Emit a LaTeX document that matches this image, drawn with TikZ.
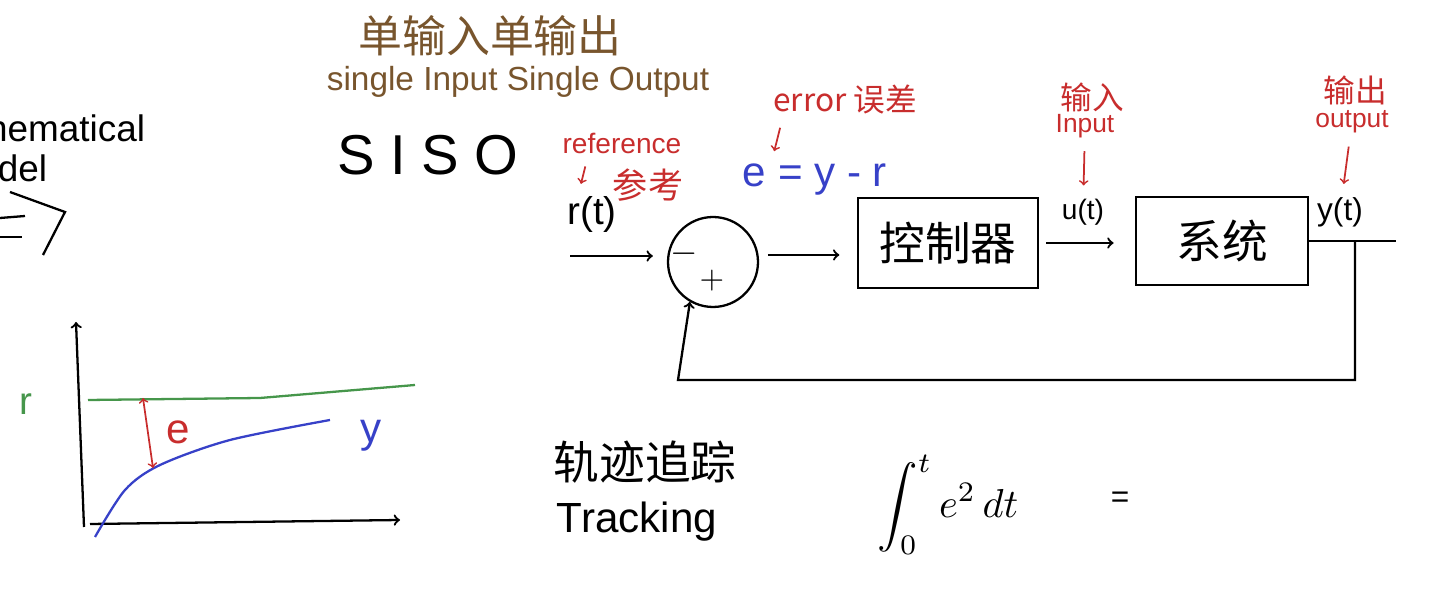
\documentclass[tikz,border=0pt]{standalone}
\usepackage{fontspec}
\setmainfont{Liberation Sans}
\newfontfamily\cjk{Noto Sans CJK SC}
\usetikzlibrary{positioning}
\definecolor{inkred}{RGB}{200,45,45}
\definecolor{inkbrown}{RGB}{120,85,45}
\definecolor{inkblue}{RGB}{55,65,200}
\definecolor{inkgreen}{RGB}{70,150,75}
\newcommand{\fs}[1]{\fontsize{#1}{#1}\selectfont}
\begin{document}
\begin{tikzpicture}[
        x=0.02cm, y=-0.02cm,
        line width=1.3pt,
        every node/.style={inner sep=1pt},
        block/.style={rectangle, draw, line width=1.3pt, minimum width=3.6cm, minimum height=1.8cm, font=\cjk\fs{26}},
        summer/.style={circle, draw, line width=1.3pt, minimum size=1.8cm},
        signal/.style={font=\fs{22}},
        rednote/.style={text=inkred, font=\cjk\fs{16}},
        redarrow/.style={->, inkred, line width=1pt, shorten >=6pt, shorten <=6pt},
        flow/.style={->, line width=1.3pt},
    ]
        \useasboundingbox (0,0) rectangle (1431,607);

        % Cut-off notes on the left
        \node[anchor=east, font=\fs{21}] (math) at (148,128) {Mathematical};
        \node[anchor=east, font=\fs{21}] (model) at (50,168) {Model};
        \draw (10,192) -- (65,212) -- (43,255);
        \draw (0,218) -- (25,216);
        \draw (0,237) -- (22,237);

        % SISO title
        \node[text=inkbrown, font=\cjk\fs{25}] (siso cn) at (490,36) {单输入单输出};
        \node[text=inkbrown, font=\fs{19}] (siso en) at (518,82) {single Input Single Output};
        \node[font=\fs{32}] (siso) at (428,155) {S I S O};

        % Block diagram
        \node[summer] (sum) at (713,262) {};
        \node[scale=2] at (684,254) {$-$};
        \node[scale=1.8] at (712,281) {$+$};
        \node[block] (ctrl) at (948,243) {控制器};
        \node[block, minimum width=3.45cm, minimum height=1.75cm] (plant) at (1222,241) {系统};

        \coordinate (rin) at (570,256);
        \node[signal] (rt) at (592,215) {r(t)};
        \node[signal, font=\fs{16}] (ut) at (1083,212) {u(t)};
        \node[signal, font=\fs{18}] (yt) at (1340,212) {y(t)};

        \draw[flow, shorten >=8pt] (rin) -- (rin -| sum.west);
        \draw[flow, shorten <=5pt, shorten >=10pt] ([yshift=4pt]sum.east) -- ([yshift=4pt]sum.east -| ctrl.west);
        \draw[flow, shorten <=4pt, shorten >=12pt] (ctrl.east) -- (ctrl.east -| plant.west);
        \draw (plant.east) -- ++(87,0) coordinate (yend);
        \coordinate (tap) at (1355,241);
        \coordinate (fb) at (678,380);
        \draw[flow] (tap) |- (fb) -- (sum.240);

        % Annotations
        \node[rednote, font=\fs{16}] (ref) at (622,143) {reference};
        \node[rednote, font=\cjk\fs{20}] (ref cn) at (648,185) {参考};
        \draw[redarrow] ([xshift=16pt]ref.south west) -- ([xshift=8pt]rt.north west);

        \node[rednote, font=\cjk\fs{18}] (err) at (845,100) {error 误差};
        \node[text=inkblue, font=\fs{24}] (eq) at (815,180) {e = y - r};
        \draw[redarrow] ([xshift=7pt]err.south west) -- ([xshift=18pt]eq.north west);

        \node[rednote, font=\cjk\fs{18}] (in cn) at (1092,97) {输入};
        \node[rednote, font=\fs{15}] (in en) at (1085,126) {Input};
        \draw[redarrow] (in en) -- (ut);

        \node[rednote, font=\cjk\fs{18}] (out cn) at (1355,90) {输出};
        \node[rednote, font=\fs{15}] (out en) at (1352,122) {output};
        \draw[redarrow] (out en) -- (yt);

        % Tracking graph
        \draw[->] (84,527) -- (76,322);
        \draw[->] (90,524) -- (400,520);
        \draw[inkgreen] (88,400) -- (260,398) -- (415,385);
        \draw[inkblue] plot[smooth] coordinates {(95,537) (125,490) (160,465) (230,440) (330,420)};
        \draw[<->, inkred, line width=1pt] (143,398) -- (153,468);
        \node[text=inkgreen, font=\fs{22}] (rlab) at (26,404) {r};
        \node[text=inkblue, font=\fs{24}] (ylab) at (371,436) {y};
        \node[text=inkred, font=\fs{24}] (elab) at (178,432) {e};

        % Tracking notes
        \node[font=\cjk\fs{26}] (track cn) at (645,462) {轨迹追踪};
        \node[font=\fs{24}] (track) at (637,522) {Tracking};
        \node[scale=2.3] (cost) at (948,505) {$\displaystyle\int_0^t e^2\,dt$};
        \node[font=\fs{18}] (eqsign) at (1120,500) {=};
    \end{tikzpicture}
\end{document}
